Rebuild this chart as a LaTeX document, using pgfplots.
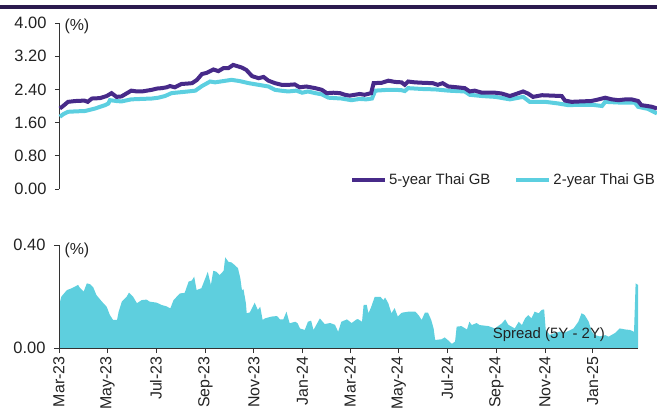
\documentclass[border=0pt]{standalone}
\usepackage{pgfplots}
\pgfplotsset{compat=1.18}
\usepackage{pgfplotstable}
\usepackage{fontspec}
\setmainfont{Liberation Sans}
\definecolor{fiveY}{HTML}{472A89}
\definecolor{twoY}{HTML}{5CCFE0}
\definecolor{spreadc}{HTML}{5ECFDE}
\definecolor{barc}{HTML}{2B1A4E}
\definecolor{axc}{HTML}{333333}
\definecolor{txt}{HTML}{222222}

\pgfplotstableread{
d v
1 1.94
5 2.00
11 2.10
20 2.12
31 2.13
35 2.10
40 2.18
50 2.19
58 2.24
64 2.31
70 2.22
76 2.23
82 2.30
88 2.37
95 2.35
101 2.35
107 2.37
113 2.39
119 2.42
125 2.43
131 2.45
135 2.48
141 2.45
149 2.53
156 2.54
162 2.55
168 2.63
174 2.77
180 2.80
188 2.88
194 2.84
200 2.91
206 2.91
212 2.99
217 2.96
222 2.93
228 2.87
235 2.72
243 2.67
249 2.70
255 2.61
263 2.55
271 2.51
280 2.51
287 2.52
293 2.45
301 2.47
312 2.43
320 2.39
326 2.31
334 2.32
342 2.31
348 2.27
354 2.25
360 2.27
366 2.29
372 2.27
380 2.31
383 2.55
393 2.56
401 2.61
409 2.58
417 2.57
421 2.51
425 2.59
433 2.57
442 2.56
455 2.55
461 2.51
467 2.55
474 2.47
485 2.45
494 2.43
500 2.35
506 2.37
515 2.32
531 2.32
539 2.30
549 2.24
555 2.28
565 2.35
571 2.30
577 2.22
588 2.26
600 2.25
612 2.24
616 2.13
624 2.10
635 2.11
648 2.12
655 2.15
661 2.18
665 2.20
673 2.16
681 2.14
690 2.16
697 2.16
705 2.12
709 2.02
716 2.00
722 1.98
728 1.94
}\fiveyr

\pgfplotstableread{
d v
1 1.74
5 1.80
11 1.86
20 1.87
32 1.88
44 1.94
56 2.02
60 2.06
62 2.14
70 2.12
76 2.11
88 2.16
100 2.17
113 2.18
121 2.20
129 2.24
137 2.31
147 2.33
157 2.35
166 2.37
174 2.48
184 2.59
190 2.57
200 2.60
210 2.63
220 2.60
231 2.55
243 2.51
255 2.47
263 2.39
270 2.37
279 2.35
289 2.37
296 2.32
303 2.35
312 2.31
320 2.28
328 2.20
336 2.19
344 2.18
356 2.14
366 2.17
374 2.16
381 2.18
385 2.37
393 2.38
401 2.39
410 2.39
417 2.38
421 2.36
425 2.43
442 2.41
458 2.40
474 2.37
494 2.35
500 2.27
515 2.24
531 2.22
549 2.16
557 2.19
565 2.22
573 2.10
592 2.10
608 2.06
620 2.02
635 2.03
649 2.03
661 2.00
665 2.10
685 2.08
701 2.08
705 1.98
717 1.93
722 1.88
728 1.82
}\twoyr

\pgfplotstableread{
d v
1 0.176
3 0.200
10 0.225
16 0.232
24 0.245
26 0.235
31 0.219
35 0.251
39 0.248
43 0.236
47 0.206
54 0.180
60 0.160
64 0.128
68 0.109
73 0.109
75 0.141
79 0.180
85 0.199
88 0.215
93 0.200
98 0.174
104 0.186
110 0.188
114 0.180
123 0.176
129 0.167
135 0.162
140 0.154
144 0.186
152 0.212
158 0.214
163 0.258
167 0.262
170 0.277
173 0.225
179 0.232
184 0.271
187 0.296
191 0.245
194 0.300
198 0.296
202 0.283
207 0.300
209 0.352
213 0.335
217 0.332
221 0.322
225 0.310
228 0.271
230 0.225
232 0.228
235 0.174
236 0.135
240 0.138
246 0.176
250 0.148
253 0.160
256 0.109
259 0.115
267 0.122
274 0.124
278 0.111
282 0.111
286 0.141
290 0.096
297 0.102
300 0.096
303 0.076
309 0.070
313 0.102
317 0.106
320 0.070
328 0.115
334 0.093
341 0.097
347 0.090
351 0.063
355 0.102
362 0.111
368 0.097
374 0.111
376 0.112
381 0.102
383 0.167
387 0.167
389 0.135
392 0.155
397 0.199
404 0.199
408 0.186
410 0.196
414 0.174
418 0.135
422 0.155
426 0.122
431 0.137
439 0.141
448 0.141
452 0.128
456 0.109
460 0.137
464 0.137
468 0.109
471 0.076
473 0.031
481 0.034
485 0.041
490 0.028
494 0.016
498 0.025
500 0.083
506 0.085
513 0.072
516 0.102
519 0.089
525 0.097
529 0.089
540 0.085
548 0.076
557 0.096
561 0.111
565 0.090
573 0.076
578 0.102
582 0.089
586 0.115
590 0.128
594 0.115
598 0.141
603 0.135
607 0.148
610 0.150
612 0.070
617 0.051
624 0.058
630 0.064
636 0.060
643 0.070
647 0.076
653 0.102
657 0.135
661 0.128
666 0.102
670 0.063
674 0.050
680 0.045
687 0.050
691 0.044
699 0.058
705 0.076
712 0.072
718 0.070
723 0.063
725 0.251
728 0.245
}\spread

\begin{document}
\begin{tikzpicture}
\fill[barc] (0bp,409bp) rectangle (657bp,413bp);
\begin{axis}[
  at={(59bp,229bp)}, anchor=south west,
  scale only axis, width=598bp, height=166bp,
  xmin=0, xmax=728, ymin=0, ymax=4,
  axis x line=none, axis y line=left,
  axis line style={-, axc, line width=0.8bp},
  xtick=\empty,
  ytick={0,0.8,1.6,2.4,3.2,4},
  tick align=outside, major tick length=4bp,
  tick style={axc, line width=0.8bp},
  /pgf/number format/assume math mode=true,
  yticklabel style={/pgf/number format/fixed, /pgf/number format/fixed zerofill, /pgf/number format/precision=2, text=txt, xshift=-5bp, font=\fontsize{16.5}{19}\selectfont},
  font=\fontsize{15}{18}\selectfont,
  clip=false,
  legend style={at={(1,0.054)}, anchor=east, draw=none, fill=none, inner sep=0pt,
    font=\fontsize{15}{18}\selectfont, text=txt,
    /tikz/every even column/.append style={column sep=22bp},
    nodes={inner sep=2bp}},
  legend columns=2,
  legend image code/.code={\draw[#1, line width=4bp] (0bp,0bp) -- (33bp,0bp);},
]
\addlegendimage{fiveY}
\addlegendentry{5-year Thai GB}
\addlegendimage{twoY}
\addlegendentry{2-year Thai GB}
\addplot[twoY, line width=4bp, forget plot] table[x=d,y=v] {\twoyr};
\addplot[fiveY, line width=4bp, forget plot] table[x=d,y=v] {\fiveyr};
\node[anchor=west, text=txt, xshift=2bp, yshift=-3bp, font=\fontsize{16}{19}\selectfont] at (rel axis cs:0,1) {(\%)};
\end{axis}

\begin{axis}[
  at={(59bp,70bp)}, anchor=south west,
  scale only axis, width=579bp, height=103bp,
  xmin=0, xmax=728, ymin=0, ymax=0.4,
  axis x line=bottom, axis y line=left,
  axis line style={-, axc, line width=0.8bp},
  ytick={0,0.4},
  xtick={0,61,122,184,245,306,366,427,488,550,611,671},
  xticklabels={Mar-23,May-23,Jul-23,Sep-23,Nov-23,Jan-24,Mar-24,May-24,Jul-24,Sep-24,Nov-24,Jan-25},
  x tick label style={rotate=90, anchor=east, text=txt, font=\fontsize{16}{19}\selectfont},
  tick align=outside, major tick length=5bp,
  tick style={axc, line width=0.8bp},
  /pgf/number format/assume math mode=true,
  yticklabel style={/pgf/number format/fixed, /pgf/number format/fixed zerofill, /pgf/number format/precision=2, text=txt, xshift=-5bp, font=\fontsize{16.5}{19}\selectfont},
  font=\fontsize{15}{18}\selectfont,
  clip=false,
  axis on top,
]
\addplot[fill=spreadc, draw=none] table[x=d,y=v] {\spread} \closedcycle;
\node[text=txt, font=\fontsize{15}{18}\selectfont] at (axis cs:616,0.05) {Spread (5Y - 2Y)};
\node[anchor=west, text=txt, xshift=2bp, yshift=-5bp, font=\fontsize{16}{19}\selectfont] at (rel axis cs:0,1) {(\%)};
\end{axis}
\pgfresetboundingbox
\path (0bp,0bp) rectangle (657bp,418bp);
\end{tikzpicture}
\end{document}
